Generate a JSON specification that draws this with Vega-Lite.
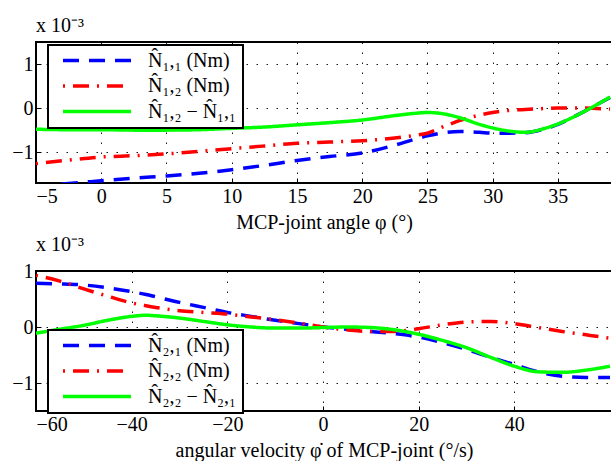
{
  "$schema": "https://vega.github.io/schema/vega-lite/v6.json",
  "padding": {"left": 10, "top": 15, "right": 0, "bottom": 0},
  "background": "white",
  "config": {
    "font": "Liberation Serif",
    "view": {"stroke": "black", "strokeWidth": 2},
    "axis": {
      "labelFont": "Liberation Serif", "labelFontSize": 20, "labelColor": "black",
      "titleFont": "Liberation Serif", "titleFontSize": 20, "titleFontWeight": "normal", "titleColor": "black",
      "domain": false, "ticks": true, "tickColor": "black", "tickSize": -5, "tickWidth": 1,
      "grid": true, "gridColor": "black", "gridDash": [1.5, 8.5], "gridWidth": 1, "gridOpacity": 0.9,
      "labelPadding": 8
    },
    "title": {"font": "Liberation Serif", "fontSize": 20, "fontWeight": "normal", "color": "black", "anchor": "start", "frame": "group", "offset": 6},
    "legend": {
      "orient": "none", "legendX": 12, "strokeColor": "black", "fillColor": "white",
      "padding": 6, "symbolType": "stroke", "symbolSize": 4624, "clipHeight": 19, "rowPadding": 4.5,
      "symbolOffset": 7, "labelOffset": 15,
      "symbolStrokeWidth": 3.5, "labelFont": "Liberation Serif", "labelFontSize": 20,
      "labelColor": "black", "labelLimit": 0, "title": null
    }
  },
  "datasets": {
    "top": [
      {"s":"a","x":-5,"y":-1.78},{"s":"a","x":-2.5,"y":-1.71},{"s":"a","x":0,"y":-1.65},{"s":"a","x":2.5,"y":-1.59},{"s":"a","x":5,"y":-1.54},{"s":"a","x":7.5,"y":-1.48},{"s":"a","x":10,"y":-1.40},{"s":"a","x":12.5,"y":-1.30},{"s":"a","x":15,"y":-1.19},{"s":"a","x":17.5,"y":-1.10},{"s":"a","x":20,"y":-1.02},{"s":"a","x":22.5,"y":-0.84},{"s":"a","x":24,"y":-0.71},{"s":"a","x":25,"y":-0.63},{"s":"a","x":26,"y":-0.57},{"s":"a","x":27.5,"y":-0.53},{"s":"a","x":29,"y":-0.55},{"s":"a","x":30,"y":-0.57},{"s":"a","x":31,"y":-0.57},{"s":"a","x":32.5,"y":-0.56},{"s":"a","x":34,"y":-0.47},{"s":"a","x":35,"y":-0.37},{"s":"a","x":36,"y":-0.23},{"s":"a","x":37,"y":-0.08},{"s":"a","x":38,"y":0.08},{"s":"a","x":39,"y":0.24},
      {"s":"b","x":-5,"y":-1.26},{"s":"b","x":-2.5,"y":-1.18},{"s":"b","x":0,"y":-1.11},{"s":"b","x":2.5,"y":-1.08},{"s":"b","x":5,"y":-1.04},{"s":"b","x":7.5,"y":-0.98},{"s":"b","x":10,"y":-0.92},{"s":"b","x":12.5,"y":-0.86},{"s":"b","x":15,"y":-0.80},{"s":"b","x":17.5,"y":-0.77},{"s":"b","x":20,"y":-0.74},{"s":"b","x":22.5,"y":-0.68},{"s":"b","x":24,"y":-0.62},{"s":"b","x":25,"y":-0.57},{"s":"b","x":26,"y":-0.45},{"s":"b","x":27.5,"y":-0.28},{"s":"b","x":29,"y":-0.16},{"s":"b","x":30,"y":-0.10},{"s":"b","x":31,"y":-0.06},{"s":"b","x":32.5,"y":-0.03},{"s":"b","x":34,"y":-0.01},{"s":"b","x":35,"y":0.0},{"s":"b","x":36,"y":0.0},{"s":"b","x":37,"y":0.0},{"s":"b","x":38,"y":-0.01},{"s":"b","x":39,"y":-0.02},
      {"s":"c","x":-5,"y":-0.48},{"s":"c","x":-2.5,"y":-0.49},{"s":"c","x":0,"y":-0.49},{"s":"c","x":2.5,"y":-0.50},{"s":"c","x":5,"y":-0.50},{"s":"c","x":7.5,"y":-0.49},{"s":"c","x":10,"y":-0.46},{"s":"c","x":12.5,"y":-0.43},{"s":"c","x":15,"y":-0.38},{"s":"c","x":17.5,"y":-0.33},{"s":"c","x":20,"y":-0.27},{"s":"c","x":22.5,"y":-0.17},{"s":"c","x":24,"y":-0.12},{"s":"c","x":25,"y":-0.10},{"s":"c","x":26,"y":-0.12},{"s":"c","x":27.5,"y":-0.22},{"s":"c","x":29,"y":-0.37},{"s":"c","x":30,"y":-0.45},{"s":"c","x":31,"y":-0.51},{"s":"c","x":32.5,"y":-0.55},{"s":"c","x":34,"y":-0.46},{"s":"c","x":35,"y":-0.36},{"s":"c","x":36,"y":-0.23},{"s":"c","x":37,"y":-0.08},{"s":"c","x":38,"y":0.08},{"s":"c","x":39,"y":0.25}
    ],
    "bottom": [
      {"s":"a","x":-60,"y":0.78},{"s":"a","x":-55,"y":0.77},{"s":"a","x":-50,"y":0.75},{"s":"a","x":-45,"y":0.70},{"s":"a","x":-40,"y":0.63},{"s":"a","x":-37,"y":0.58},{"s":"a","x":-35,"y":0.54},{"s":"a","x":-30,"y":0.44},{"s":"a","x":-25,"y":0.35},{"s":"a","x":-20,"y":0.26},{"s":"a","x":-15,"y":0.19},{"s":"a","x":-10,"y":0.12},{"s":"a","x":-5,"y":0.06},{"s":"a","x":0,"y":0.0},{"s":"a","x":5,"y":-0.04},{"s":"a","x":10,"y":-0.08},{"s":"a","x":15,"y":-0.12},{"s":"a","x":20,"y":-0.18},{"s":"a","x":25,"y":-0.28},{"s":"a","x":30,"y":-0.40},{"s":"a","x":35,"y":-0.54},{"s":"a","x":40,"y":-0.67},{"s":"a","x":45,"y":-0.80},{"s":"a","x":50,"y":-0.88},{"s":"a","x":55,"y":-0.90},{"s":"a","x":60,"y":-0.90},
      {"s":"b","x":-60,"y":0.92},{"s":"b","x":-55,"y":0.82},{"s":"b","x":-50,"y":0.68},{"s":"b","x":-45,"y":0.55},{"s":"b","x":-40,"y":0.43},{"s":"b","x":-37,"y":0.38},{"s":"b","x":-35,"y":0.35},{"s":"b","x":-30,"y":0.29},{"s":"b","x":-25,"y":0.26},{"s":"b","x":-20,"y":0.23},{"s":"b","x":-15,"y":0.18},{"s":"b","x":-10,"y":0.13},{"s":"b","x":-5,"y":0.07},{"s":"b","x":0,"y":0.0},{"s":"b","x":5,"y":-0.05},{"s":"b","x":10,"y":-0.08},{"s":"b","x":15,"y":-0.08},{"s":"b","x":20,"y":-0.03},{"s":"b","x":25,"y":0.04},{"s":"b","x":30,"y":0.09},{"s":"b","x":35,"y":0.10},{"s":"b","x":40,"y":0.06},{"s":"b","x":45,"y":-0.01},{"s":"b","x":50,"y":-0.08},{"s":"b","x":55,"y":-0.14},{"s":"b","x":60,"y":-0.20},
      {"s":"c","x":-60,"y":-0.11},{"s":"c","x":-55,"y":-0.04},{"s":"c","x":-50,"y":0.03},{"s":"c","x":-45,"y":0.12},{"s":"c","x":-40,"y":0.19},{"s":"c","x":-37,"y":0.21},{"s":"c","x":-35,"y":0.20},{"s":"c","x":-30,"y":0.16},{"s":"c","x":-25,"y":0.10},{"s":"c","x":-20,"y":0.04},{"s":"c","x":-15,"y":0.0},{"s":"c","x":-10,"y":-0.02},{"s":"c","x":-5,"y":-0.02},{"s":"c","x":0,"y":-0.01},{"s":"c","x":5,"y":0.0},{"s":"c","x":10,"y":-0.01},{"s":"c","x":15,"y":-0.05},{"s":"c","x":20,"y":-0.13},{"s":"c","x":25,"y":-0.24},{"s":"c","x":30,"y":-0.37},{"s":"c","x":35,"y":-0.54},{"s":"c","x":40,"y":-0.70},{"s":"c","x":45,"y":-0.80},{"s":"c","x":50,"y":-0.81},{"s":"c","x":55,"y":-0.77},{"s":"c","x":60,"y":-0.70}
    ]
  },
  "vconcat": [
    {
      "width": 576, "height": 141,
      "title": {"text": "x 10⁻³"},
      "data": {"name": "top"},
      "mark": {"type": "line", "clip": true, "strokeWidth": 3.5, "interpolate": "monotone"},
      "encoding": {
        "x": {"field": "x", "type": "quantitative", "scale": {"domain": [-5, 39.15], "nice": false, "zero": false},
              "axis": {"values": [-5, 0, 5, 10, 15, 20, 25, 30, 35], "title": "MCP-joint angle φ (°)", "titlePadding": 6}},
        "y": {"field": "y", "type": "quantitative", "scale": {"domain": [-1.7, 1.5], "nice": false, "zero": false},
              "axis": {"values": [-1, 0, 1], "title": null}},
        "color": {"field": "s", "type": "nominal",
                  "scale": {"domain": ["a", "b", "c"], "range": ["#0000ff", "#ff0000", "#00ff00"]},
                  "legend": {"legendY": 3, "labelExpr": "(datum.label == 'a' ? 'N̂₁,₁ (Nm)' : datum.label == 'b' ? 'N̂₁,₂ (Nm)' : 'N̂₁,₂ − N̂₁,₁') + '\u00a0\u00a0\u00a0\u00a0'",
                             "encode": {"legend": {"update": {"strokeWidth": {"value": 2}}}}}},
        "strokeDash": {"field": "s", "type": "nominal",
                       "scale": {"domain": ["a", "b", "c"], "range": [[16, 10], [2, 8, 16, 8], [1, 0]]},
                       "legend": {"legendY": 3, "labelExpr": "(datum.label == 'a' ? 'N̂₁,₁ (Nm)' : datum.label == 'b' ? 'N̂₁,₂ (Nm)' : 'N̂₁,₂ − N̂₁,₁') + '\u00a0\u00a0\u00a0\u00a0'",
                             "encode": {"legend": {"update": {"strokeWidth": {"value": 2}}}}}}
      }
    },
    {
      "width": 576, "height": 140,
      "title": {"text": "x 10⁻³"},
      "data": {"name": "bottom"},
      "mark": {"type": "line", "clip": true, "strokeWidth": 3.5, "interpolate": "monotone"},
      "encoding": {
        "x": {"field": "x", "type": "quantitative", "scale": {"domain": [-60, 60.42], "nice": false, "zero": false},
              "axis": {"values": [-60, -40, -20, 0, 20, 40], "title": "angular velocity φ̇ of MCP-joint (°/s)", "titlePadding": 6}},
        "y": {"field": "y", "type": "quantitative", "scale": {"domain": [-1.5, 1], "nice": false, "zero": false},
              "axis": {"values": [-1, 0, 1], "title": null}},
        "color": {"field": "s", "type": "nominal",
                  "scale": {"domain": ["a", "b", "c"], "range": ["#0000ff", "#ff0000", "#00ff00"]},
                  "legend": {"legendY": 59, "labelExpr": "(datum.label == 'a' ? 'N̂₂,₁ (Nm)' : datum.label == 'b' ? 'N̂₂,₂ (Nm)' : 'N̂₂,₂ − N̂₂,₁') + '\u00a0\u00a0\u00a0\u00a0'",
                             "encode": {"legend": {"update": {"strokeWidth": {"value": 2}}}}}},
        "strokeDash": {"field": "s", "type": "nominal",
                       "scale": {"domain": ["a", "b", "c"], "range": [[16, 10], [2, 8, 16, 8], [1, 0]]},
                       "legend": {"legendY": 59, "labelExpr": "(datum.label == 'a' ? 'N̂₂,₁ (Nm)' : datum.label == 'b' ? 'N̂₂,₂ (Nm)' : 'N̂₂,₂ − N̂₂,₁') + '\u00a0\u00a0\u00a0\u00a0'",
                             "encode": {"legend": {"update": {"strokeWidth": {"value": 2}}}}}}
      }
    }
  ],
  "spacing": 88,
  "bounds": "flush",
  "resolve": {"scale": {"color": "independent", "strokeDash": "independent"}, "legend": {"color": "independent", "strokeDash": "independent"}}
}
